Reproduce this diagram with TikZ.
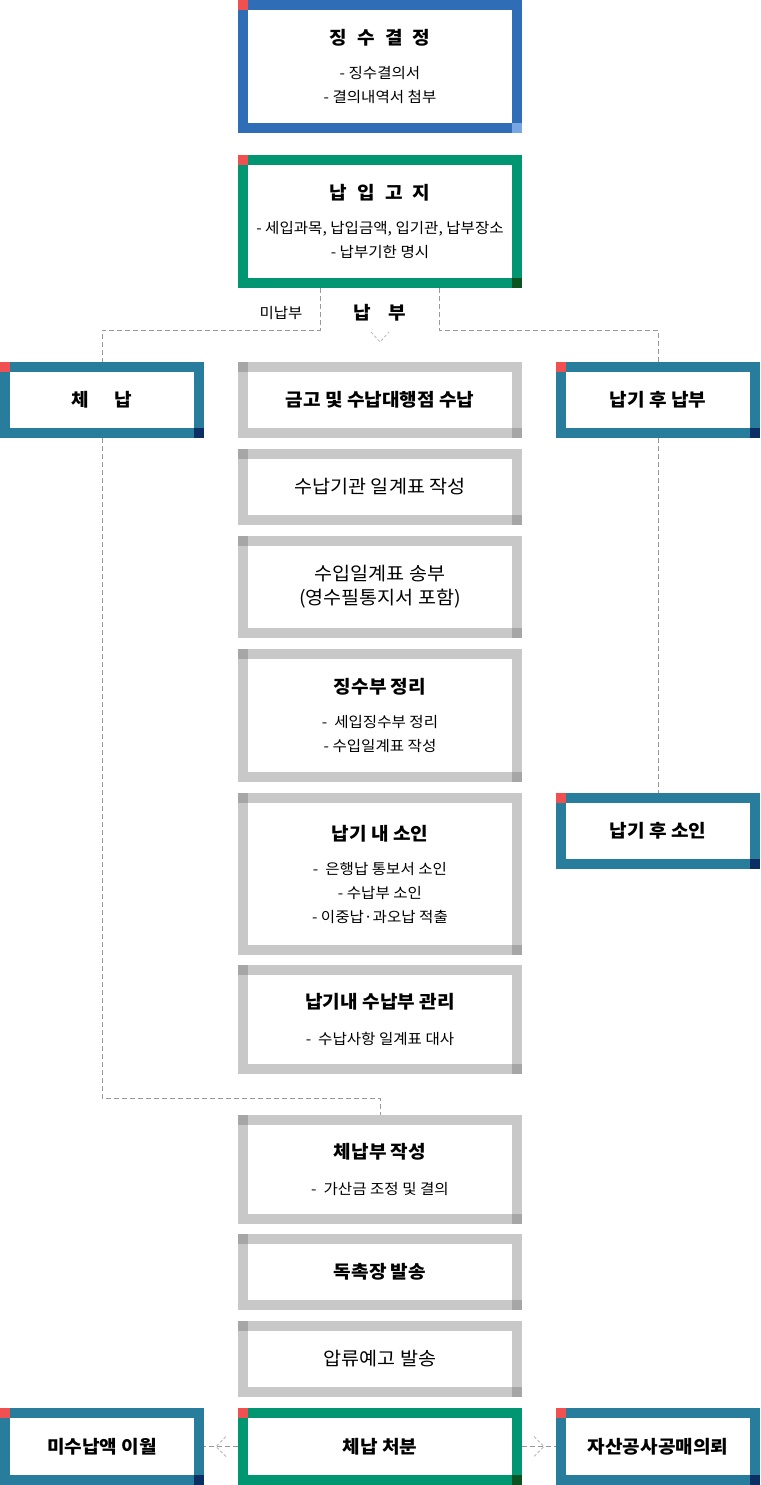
\documentclass[tikz,border=0pt]{standalone}
\usepackage{fontspec}
\setmainfont[FakeStretch=1.06]{Noto Sans CJK KR}
\usepackage{tikz}
\usetikzlibrary{calc}
\usetikzlibrary{decorations.markings}
\definecolor{jblue}{HTML}{2F6DB6}
\definecolor{jbluecorner}{HTML}{78A6E2}
\definecolor{jgreen}{HTML}{009671}
\definecolor{jgreencorner}{HTML}{0B5320}
\definecolor{jteal}{HTML}{287C9C}
\definecolor{jtealcorner}{HTML}{0B2F64}
\definecolor{jgray}{HTML}{C8C8C8}
\definecolor{jgraycorner}{HTML}{A6A6A6}
\definecolor{jred}{HTML}{F0504F}
\definecolor{linkgray}{HTML}{999999}
\tikzstyle{box}=[line width=10pt,outer sep=5pt,fill=white,align=center,inner sep=0pt,
  font=\fontsize{14.7}{24}\selectfont]
\tikzstyle{bluebox}=[box,draw=jblue,minimum width=274pt]
\tikzstyle{greenbox}=[box,draw=jgreen,minimum width=274pt]
\tikzstyle{graybox}=[box,draw=jgray,minimum width=274pt]
\tikzstyle{tealbox}=[box,draw=jteal,minimum width=194pt,minimum height=66pt]
\tikzstyle{plain}=[font=\fontsize{18.5}{24}\selectfont]
\tikzstyle{link}=[draw=linkgray,line width=1pt,dash pattern=on 5pt off 3pt]
\tikzstyle{chev}=[draw=linkgray!70,line width=0.8pt,dash pattern=on 3pt off 2pt]
\tikzstyle{midchev}=[postaction={decorate,decoration={markings,
  mark=at position 0.5 with {\draw[chev] (-5,-10) -- (5,0) -- (-5,10);}}}]
\newcommand{\ttl}[1]{{\bfseries\fontsize{18}{24}\selectfont #1}}
\newcommand{\gp}{\hspace{10pt}}

\begin{document}
\begin{tikzpicture}[x=1pt,y=-1pt]
  \useasboundingbox (0,0) rectangle (760,1485);

  % TOP
  \node[bluebox,minimum height=123pt] (gyeoljeong) at (380,66.5)
    {\ttl{징\gp 수\gp 결\gp 정}\\[10pt]- 징수결의서\\- 결의내역서 첨부};
  \node[greenbox,minimum height=123pt] (goji) at (380,221.5)
    {\ttl{납\gp 입\gp 고\gp 지}\\[10pt]- 세입과목, 납입금액, 입기관, 납부장소\\- 납부기한 명시};
  \node[font=\fontsize{14.7}{17}\selectfont] (minap) at (281,313) {미납부};
  \node[font=\bfseries\fontsize{18}{20}\selectfont] (napbu) at (380,313) {납\hspace{18pt}부};

  % MIDDLE COLUMN
  \node[graybox,minimum height=66pt] (geumgo) at (380,400) {\ttl{금고 및 수납대행점 수납}};
  \node[graybox,plain,minimum height=66pt] (ilgye) at (380,487) {수납기관 일계표 작성};
  \node[graybox,plain,minimum height=92pt] (songbu) at (380,587)
    {수입일계표 송부\\(영수필통지서 포함)};
  \node[graybox,minimum height=123pt] (jingsubu) at (380,715.5)
    {\ttl{징수부 정리}\\[10pt]-~ 세입징수부 정리\\- 수입일계표 작성};
  \node[graybox,minimum height=152pt] (soin) at (380,874)
    {\ttl{납기 내 소인}\\[10pt]-~ 은행납 통보서 소인\\- 수납부 소인\\- 이중납·과오납 적출};
  \node[graybox,minimum height=99pt] (sunapbu) at (380,1019.5)
    {\ttl{납기내 수납부 관리}\\[12pt]-~ 수납사항 일계표 대사};
  \node[graybox,minimum height=99pt] (chenapbu) at (380,1169.5)
    {\ttl{체납부 작성}\\[12pt]-~ 가산금 조정 및 결의};
  \node[graybox,minimum height=66pt] (dokchok) at (380,1272) {\ttl{독촉장 발송}};
  \node[graybox,plain,minimum height=66pt] (apryu) at (380,1359) {압류예고 발송};
  \node[greenbox,minimum height=67pt] (cheobun) at (380,1446.5) {\ttl{체납 처분}};

  % SIDES
  \node[tealbox] (chenap) at (102,400) {\ttl{체\hspace{25pt}납}};
  \node[tealbox] (hunapbu) at (658,400) {\ttl{납기 후 납부}};
  \node[tealbox] (husoin) at (658,831) {\ttl{납기 후 소인}};
  \node[tealbox,minimum height=67pt] (iwol) at (102,1446.5) {\ttl{미수납액 이월}};
  \node[tealbox,minimum height=67pt] (gongmae) at (658,1446.5) {\ttl{자산공사공매의뢰}};

  % CORNERS
  \foreach \n/\a/\b in {gyeoljeong/jred/jbluecorner, goji/jred/jgreencorner,
      cheobun/jred/jgreencorner, chenap/jred/jtealcorner, hunapbu/jred/jtealcorner,
      husoin/jred/jtealcorner, iwol/jred/jtealcorner, gongmae/jred/jtealcorner,
      geumgo/jgraycorner/jgraycorner, ilgye/jgraycorner/jgraycorner,
      songbu/jgraycorner/jgraycorner, jingsubu/jgraycorner/jgraycorner,
      soin/jgraycorner/jgraycorner, sunapbu/jgraycorner/jgraycorner,
      chenapbu/jgraycorner/jgraycorner, dokchok/jgraycorner/jgraycorner,
      apryu/jgraycorner/jgraycorner}{
    \fill[\a] (\n.north west) rectangle ++(10,10);
    \fill[\b] (\n.south east) rectangle ++(-10,-10);
  }

  % LINKS
  \coordinate (lsplit) at (320,330);
  \coordinate (rsplit) at (439,330);
  \coordinate (join) at (380,1098);
  \draw[link] (goji.south -| lsplit) -- (lsplit) -| (chenap.north);
  \draw[link] (goji.south -| rsplit) -- (rsplit) -| (hunapbu.north);
  \draw[chev] ([shift={(-9,19)}]napbu.center) -- ++(9,10) -- ++(9,-10);
  \draw[link] (chenap.south) |- (join) -- (chenapbu.north);
  \draw[link] (hunapbu.south) -- (husoin.north);
  \draw[link,midchev] (cheobun.west) -- (iwol.east);
  \draw[link,midchev] (cheobun.east) -- (gongmae.west);
\end{tikzpicture}
\end{document}
